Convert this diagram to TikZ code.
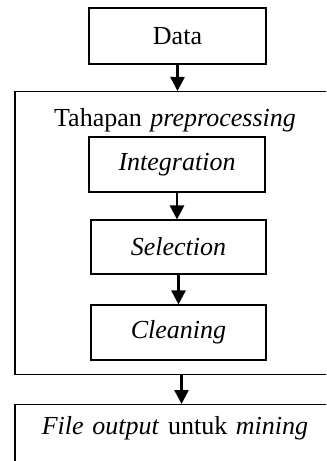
\documentclass[tikz,border=0pt]{standalone}
\usepackage{fontspec}
\setmainfont{Liberation Serif}
\usetikzlibrary{arrows.meta}
\begin{document}
\begin{tikzpicture}[x=1bp,y=-1bp,
  box/.style={draw,line width=1.1bp,inner sep=0pt,font=\fontsize{26bp}{31bp}\selectfont},
  flow/.style={line width=2.6bp,-{Triangle[length=14bp,width=14bp]}}]
\useasboundingbox (0,0) rectangle (326,461);
\clip (0,0) rectangle (326,461);
\node[box,minimum width=177bp,minimum height=56bp] (data) at (177.5,36) {Data};
\node[box,anchor=north,minimum width=320bp,text width=320bp,align=center,text height=35bp,text depth=248bp] (pre) at (175,91) {Tahapan \textit{preprocessing}};
\node[box,minimum width=176bp,minimum height=55bp] (int) at (177,164.5) {\textit{Integration}};
\node[box,minimum width=175bp,minimum height=54bp] (sel) at (178.5,247) {\textit{Selection}};
\node[box,minimum width=175bp,minimum height=55bp] (cln) at (178.5,332.5) {\textit{Cleaning}};
\node[box,anchor=north,minimum width=320bp,text width=320bp,align=center,text height=30bp,text depth=50bp] (out) at (175,404) {\textit{File output} untuk \textit{mining}};
\draw[flow] (data.south) -- (data.south |- pre.north);
\draw[flow] (int.south) -- (int.south |- sel.north);
\draw[flow] (sel.south) -- (cln.north);
\draw[flow] ([xshift=3bp]cln.south |- pre.south) -- ([xshift=3bp]cln.south |- out.north);
\end{tikzpicture}
\end{document}
